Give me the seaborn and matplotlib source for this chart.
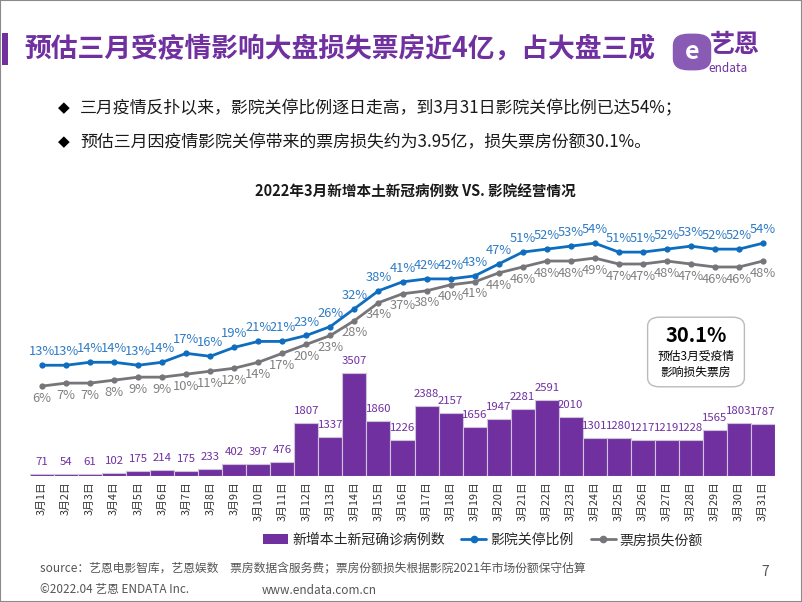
import numpy as np
import pandas as pd
import matplotlib
matplotlib.use("Agg")
import matplotlib.pyplot as plt
from matplotlib.patches import FancyBboxPatch, Rectangle
from matplotlib.lines import Line2D
from matplotlib.patches import Patch
import seaborn as sns

days = [f"3月{i}日" for i in range(1, 32)]
cases = [71, 54, 61, 102, 175, 214, 175, 233, 402, 397, 476, 1807, 1337, 3507, 1860,
         1226, 2388, 2157, 1656, 1947, 2281, 2591, 2010, 1301, 1280, 1217, 1219, 1228,
         1565, 1803, 1787]
closure = [13, 13, 14, 14, 13, 14, 17, 16, 19, 21, 21, 23, 26, 32, 38, 41, 42, 42, 43,
           47, 51, 52, 53, 54, 51, 51, 52, 53, 52, 52, 54]
loss = [6, 7, 7, 8, 9, 9, 10, 11, 12, 14, 17, 20, 23, 28, 34, 37, 38, 40, 41, 44, 46,
        48, 48, 49, 47, 47, 48, 47, 46, 46, 48]

PURPLE = "#7030A0"
BLUE = "#0E6DBE"
BLUE_T = "#2E7BC4"
GRAY = "#76767A"
GRAY_T = "#808080"

sns.set_theme(style="white")
plt.rcParams['font.family'] = ['Noto Sans CJK SC', 'DejaVu Sans']

fig = plt.figure(figsize=(8.02, 6.02), dpi=100)
W, H = 802, 602

def fx(x): return x / W
def fy(y): return 1 - y / H

# border
fig.add_artist(Rectangle((0, 0), 1, 1, transform=fig.transFigure, fill=False,
                         edgecolor="#8a8a8a", linewidth=1.5))

# header
fig.add_artist(Rectangle((fx(2), fy(65)), fx(6), 32 / H, transform=fig.transFigure,
                         color=PURPLE, linewidth=0))
fig.text(fx(24), fy(49), "预估三月受疫情影响大盘损失票房近4亿，占大盘三成",
         fontsize=19.3, fontweight="bold", color=PURPLE, va="center", ha="left")
# logo
fig.add_artist(FancyBboxPatch((fx(676), fy(68)), fx(32), 32 / H,
                              boxstyle="round,pad=0.004,rounding_size=0.02",
                              transform=fig.transFigure, facecolor="#8A5BB5",
                              edgecolor="none"))
fig.text(fx(692), fy(52), "e", fontsize=18, color="white", fontweight="bold",
         ha="center", va="center")
fig.text(fx(710), fy(45), "艺恩", fontsize=18, color=PURPLE, fontweight="bold",
         ha="left", va="center")
fig.text(fx(708), fy(68), "endata", fontsize=8.5, color=PURPLE, ha="left", va="center")

# bullets
fig.text(fx(58), fy(108), "◆", fontsize=11, color="black", ha="left", va="center",
         family="DejaVu Sans")
fig.text(fx(80), fy(108), "三月疫情反扑以来，影院关停比例逐日走高，到3月31日影院关停比例已达54%；",
         fontsize=12.2, color="#1a1a1a", ha="left", va="center")
fig.text(fx(58), fy(142), "◆", fontsize=11, color="black", ha="left", va="center",
         family="DejaVu Sans")
fig.text(fx(80), fy(142), "预估三月因疫情影院关停带来的票房损失约为3.95亿，损失票房份额30.1%。",
         fontsize=12.2, color="#1a1a1a", ha="left", va="center")

# chart title
fig.text(fx(415), fy(192), "2022年3月新增本土新冠病例数 VS. 影院经营情况",
         fontsize=10.5, fontweight="bold", color="#1a1a1a", ha="center", va="center")

# main axes
ax = fig.add_axes([fx(30), fy(476), fx(775) - fx(30), (476 - 200) / H])
df = pd.DataFrame({"day": days, "cases": cases})
sns.barplot(data=df, x="day", y="cases", color=PURPLE, saturation=1, width=1.0,
            edgecolor="#cfc3da", linewidth=0.8, ax=ax)
ax.set_xlim(-0.5, 30.5)
ax.set_ylim(0, 9400)
for i, v in enumerate(cases):
    ax.annotate(str(v), (i, v), xytext=(0, 5), textcoords="offset points",
                ha="center", va="bottom", fontsize=8.2, color=PURPLE)
ax.set_xlabel("")
ax.set_ylabel("")
ax.set_yticks([])
ax.tick_params(axis="x", length=0, pad=4)
ax.set_xticks(range(31))
ax.set_xticklabels(days, rotation=90, fontsize=7.8, color="#333333")
for s in ax.spines.values():
    s.set_visible(False)

ax2 = ax.twinx()
x = np.arange(31)
sns.lineplot(x=x, y=closure, ax=ax2, color=BLUE, linewidth=2, marker="o",
             markersize=4.5, markeredgewidth=0)
sns.lineplot(x=x, y=loss, ax=ax2, color=GRAY, linewidth=2, marker="o",
             markersize=4.5, markeredgewidth=0)
ax2.set_ylim(-24.2, 68.5)
ax2.set_xlim(-0.5, 30.5)
ax2.set_yticks([])
ax2.set_ylabel("")
for s in ax2.spines.values():
    s.set_visible(False)
for i, v in enumerate(closure):
    ax2.annotate(f"{v}%", (i, v), xytext=(0, 5), textcoords="offset points",
                 ha="center", va="bottom", fontsize=9.3, color=BLUE_T)
for i, v in enumerate(loss):
    ax2.annotate(f"{v}%", (i, v), xytext=(0, -4), textcoords="offset points",
                 ha="center", va="top", fontsize=9.3, color=GRAY_T)

# annotation box
fig.add_artist(FancyBboxPatch((fx(650), fy(385)), fx(92), 66 / H,
                              boxstyle="round,pad=0.003,rounding_size=0.015",
                              transform=fig.transFigure, facecolor="white",
                              edgecolor="#bbbbbb", linewidth=1))
fig.text(fx(696), fy(335), "30.1%", fontsize=14.5, fontweight="bold", color="black",
         ha="center", va="center")
fig.text(fx(696), fy(356), "预估3月受疫情", fontsize=8.5, color="black",
         ha="center", va="center")
fig.text(fx(696), fy(372), "影响损失票房", fontsize=8.5, color="black",
         ha="center", va="center")

# legend
handles = [Patch(facecolor=PURPLE, edgecolor="none"),
           Line2D([0], [0], color=BLUE, lw=2, marker="o", markersize=4.5),
           Line2D([0], [0], color=GRAY, lw=2, marker="o", markersize=4.5)]
labels = ["新增本土新冠确诊病例数", "影院关停比例", "票房损失份额"]
fig.legend(handles, labels, loc="center", bbox_to_anchor=(fx(483), fy(540)), ncol=3,
           frameon=False, fontsize=10, handlelength=1.8, handletextpad=0.3,
           columnspacing=1.2)

# footer
fig.text(fx(40), fy(568), "source：艺恩电影智库，艺恩娱数　票房数据含服务费；票房份额损失根据影院2021年市场份额保守估算",
         fontsize=8.5, color="#555555", ha="left", va="center")
fig.text(fx(40), fy(590), "©2022.04 艺恩 ENDATA Inc.", fontsize=8.5, color="#555555",
         ha="left", va="center")
fig.text(fx(262), fy(590), "www.endata.com.cn", fontsize=8.5, color="#555555",
         ha="left", va="center")
fig.text(fx(765), fy(572), "7", fontsize=10, color="#555555", ha="center", va="center")

fig.savefig("out.png", dpi=100)
